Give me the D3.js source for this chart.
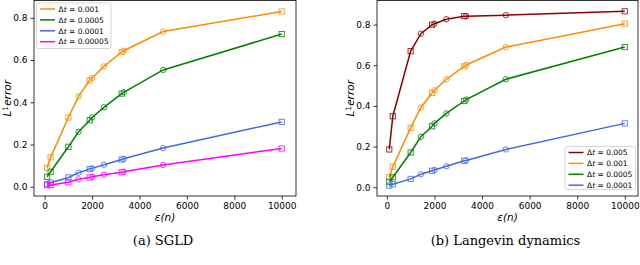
<!DOCTYPE html>
<html lang="en">
<head>
    <meta charset="UTF-8">
    <title>L1 error vs epsilon(n)</title>
    <script src="https://d3js.org/d3.v7.min.js"></script>
    <style>
        body { margin: 0; background: #fff; }
        text { font-family: "DejaVu Sans", sans-serif; fill: #000; }
        .tick text { font-size: 9px; }
        .axis-label { font-size: 10.5px; font-style: italic; }
        .caption { font-family: "DejaVu Serif", serif; font-size: 13px; }
        .legend text { font-size: 7.5px; }
    </style>
</head>
<body>
<script>
    // x positions (epsilon(n)) shared by every curve, and the marker used at each point
    const epsN = [100, 250, 1000, 1429, 1900, 2000, 2500, 3250, 3333, 5000, 10000];
    const markerShape = ["s", "s", "s", "o", "s", "o", "o", "s", "o", "o", "s"];

    const xTicks = [0, 2000, 4000, 6000, 8000, 10000];
    const yTicks = [0, 0.2, 0.4, 0.6, 0.8];

    // (a) SGLD
    const sgldDt = ["0.001", "0.0005", "0.0001", "0.00005"];
    const sgldColors = ["#ff8c00", "#008000", "#4169e1", "#ff00ff"];
    const sgld_001 = [0.090, 0.139, 0.328, 0.428, 0.504, 0.515, 0.570, 0.638, 0.644, 0.735, 0.830];
    const sgld_0005 = [0.047, 0.071, 0.189, 0.260, 0.315, 0.328, 0.376, 0.441, 0.447, 0.553, 0.723];
    const sgld_0001 = [0.013, 0.019, 0.044, 0.066, 0.084, 0.087, 0.104, 0.129, 0.132, 0.183, 0.307];
    const sgld_00005 = [0.007, 0.008, 0.021, 0.035, 0.044, 0.047, 0.057, 0.069, 0.071, 0.103, 0.181];

    // (b) Langevin dynamics
    const langDt = ["0.005", "0.001", "0.0005", "0.0001"];
    const langColors = ["#8b0000", "#ff8c00", "#008000", "#4169e1"];
    const lang_005 = [0.186, 0.349, 0.669, 0.755, 0.799, 0.804, 0.826, 0.841, 0.841, 0.846, 0.865];
    const lang_001 = [0.049, 0.101, 0.292, 0.392, 0.463, 0.477, 0.531, 0.594, 0.601, 0.689, 0.804];
    const lang_0005 = [0.027, 0.049, 0.171, 0.248, 0.300, 0.314, 0.363, 0.424, 0.431, 0.531, 0.689];
    const lang_0001 = [0.008, 0.015, 0.041, 0.064, 0.081, 0.085, 0.103, 0.130, 0.132, 0.186, 0.314];

    const W = 640, H = 265;
    const svg = d3.select("body").append("svg").attr("width", W).attr("height", H);
    svg.append("rect").attr("width", W).attr("height", H).attr("fill", "#fff");

    drawPanel({
        left: 34, right: 296, top: 0.5, bottom: 196,
        xDomain: [-451, 10603], yDomain: [-0.044, 0.882],
        series: [sgld_001, sgld_0005, sgld_0001, sgld_00005],
        labels: sgldDt, colors: sgldColors,
        legend: {x: 36.5, y: 3, w: 74.5, h: 45.5},
        caption: "(a) SGLD"
    });

    drawPanel({
        left: 377, right: 638, top: 0.5, bottom: 196,
        xDomain: [-415, 10555], yDomain: [-0.043, 0.918],
        series: [lang_005, lang_001, lang_0005, lang_0001],
        labels: langDt, colors: langColors,
        legend: {x: 565, y: 146.5, w: 70.5, h: 43},
        caption: "(b) Langevin dynamics"
    });

    function drawPanel(cfg) {
        const x = d3.scaleLinear().domain(cfg.xDomain).range([cfg.left, cfg.right]);
        const y = d3.scaleLinear().domain(cfg.yDomain).range([cfg.bottom, cfg.top]);
        const g = svg.append("g");

        // axes
        const xAxis = g.append("g").attr("transform", `translate(0,${cfg.bottom})`)
            .call(d3.axisBottom(x).tickValues(xTicks).tickFormat(d3.format("d")).tickSizeOuter(0).tickSize(3.5).tickPadding(3));
        const yAxis = g.append("g").attr("transform", `translate(${cfg.left},0)`)
            .call(d3.axisLeft(y).tickValues(yTicks).tickFormat(d3.format(".1f")).tickSizeOuter(0).tickSize(3.5).tickPadding(3));
        [xAxis, yAxis].forEach(a => {
            a.select(".domain").remove();
            a.selectAll(".tick line").attr("stroke", "#000").attr("stroke-width", 0.8);
        });

        // lines
        const line = d3.line().x((d, i) => x(epsN[i])).y(d => y(d));
        cfg.series.forEach((vals, k) => {
            const c = cfg.colors[k];
            g.append("path").datum(vals)
                .attr("d", line).attr("fill", "none")
                .attr("stroke", c).attr("stroke-width", 1.5);
            const m = g.append("g");
            vals.forEach((v, i) => {
                if (markerShape[i] === "s") {
                    m.append("rect").attr("x", x(epsN[i]) - 2.6).attr("y", y(v) - 2.6)
                        .attr("width", 5.2).attr("height", 5.2)
                        .attr("fill", "none").attr("stroke", c).attr("stroke-width", 1).attr("opacity", 0.8);
                } else {
                    m.append("circle").attr("cx", x(epsN[i])).attr("cy", y(v)).attr("r", 2.7)
                        .attr("fill", "none").attr("stroke", c).attr("stroke-width", 1).attr("opacity", 0.8);
                }
            });
        });

        // frame
        g.append("rect").attr("x", cfg.left).attr("y", cfg.top)
            .attr("width", cfg.right - cfg.left).attr("height", cfg.bottom - cfg.top)
            .attr("fill", "none").attr("stroke", "#000").attr("stroke-width", 0.8);

        // axis labels
        const cx = (cfg.left + cfg.right) / 2;
        const xl = g.append("text").attr("class", "axis-label")
            .attr("x", cx).attr("y", 220.5).attr("text-anchor", "middle");
        xl.append("tspan").text("ε(n)");

        const yl = g.append("text").attr("class", "axis-label")
            .attr("transform", `translate(${cfg.left - 23},${(cfg.top + cfg.bottom) / 2}) rotate(-90)`)
            .attr("text-anchor", "middle");
        yl.append("tspan").text("L");
        yl.append("tspan").attr("dy", -3.5).attr("font-size", "7.5px").attr("font-style", "normal").text("1");
        yl.append("tspan").attr("dy", 3.5).text("error");

        // legend
        const L = cfg.legend;
        const lg = g.append("g").attr("class", "legend");
        lg.append("rect").attr("x", L.x).attr("y", L.y).attr("width", L.w).attr("height", L.h)
            .attr("rx", 2).attr("fill", "#fff").attr("fill-opacity", 0.8)
            .attr("stroke", "#ccc").attr("stroke-width", 0.8);
        cfg.labels.forEach((lab, k) => {
            const yy = L.y + 6 + k * 10.9;
            lg.append("line").attr("x1", L.x + 3.5).attr("x2", L.x + 18.5)
                .attr("y1", yy).attr("y2", yy)
                .attr("stroke", cfg.colors[k]).attr("stroke-width", 1.5);
            const t = lg.append("text").attr("x", L.x + 22).attr("y", yy + 2.7);
            t.append("tspan").text("Δ");
            t.append("tspan").attr("font-style", "italic").text("t");
            t.append("tspan").text(" = " + lab);
        });

        // caption
        svg.append("text").attr("class", "caption")
            .attr("x", cx - 2).attr("y", 245).attr("text-anchor", "middle")
            .text(cfg.caption);
    }
</script>
</body>
</html>
